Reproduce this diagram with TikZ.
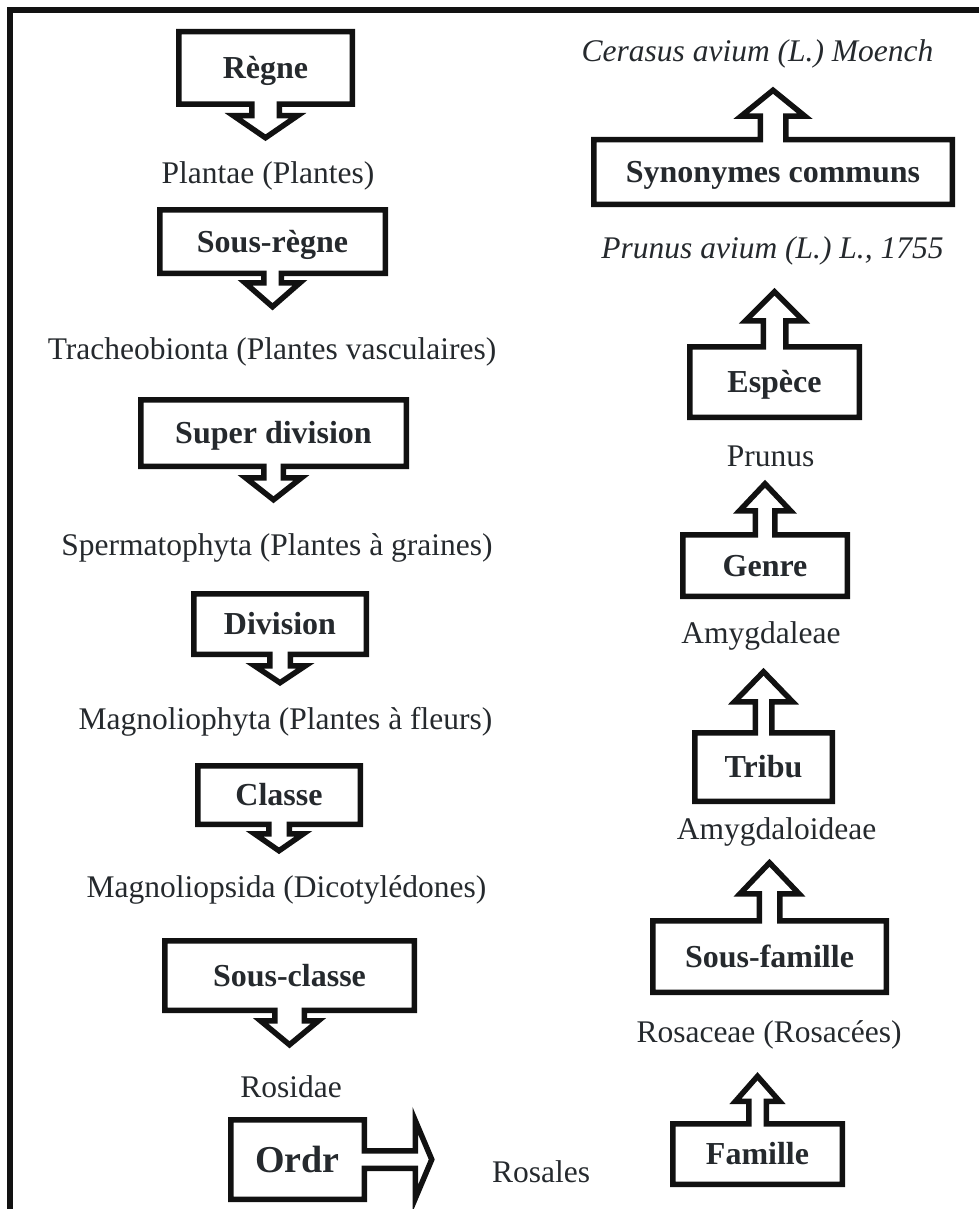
\documentclass[tikz,border=0pt]{standalone}
\usepackage{fontspec}
\setmainfont{Liberation Serif}
\usetikzlibrary{calc}
\definecolor{txt}{HTML}{25292D}
\definecolor{ln}{HTML}{111111}
\tikzset{
  outl/.style={draw=ln, line width=5.5pt, line join=miter},
  lab/.style={inner sep=0pt, outer sep=0pt, text height=21pt, text depth=0pt,
    font=\fontsize{32}{36}\selectfont\bfseries, text=txt},
  taxon/.style={anchor=base, inner sep=0pt, font=\fontsize{31.5}{36}\selectfont, text=txt},
  syn/.style={anchor=base, inner sep=0pt, font=\fontsize{31.5}{36}\selectfont\itshape, text=txt},
  framel/.style={draw=ln, line width=5.6pt},
}
% #1 node, #2 stem half width, #3 stem length, #4 head half width, #5 head length
\newcommand{\DownArr}[5]{%
  \draw[outl] (#1.north west) -- (#1.north east) -- (#1.south east)
    -- ($(#1.south)+(#2,0)$) -- ++(0,#3) -- ++({#4-#2},0) -- ++(-#4,#5)
    -- ++(-#4,-#5) -- ++({#4-#2},0) -- ++(0,-#3) -- (#1.south west) -- cycle;}
\newcommand{\UpArr}[5]{%
  \draw[outl] (#1.south west) -- (#1.south east) -- (#1.north east)
    -- ($(#1.north)+(#2,0)$) -- ++(0,-#3) -- ++({#4-#2},0) -- ++(-#4,-#5)
    -- ++(-#4,#5) -- ++({#4-#2},0) -- ++(0,#3) -- (#1.north west) -- cycle;}
\newcommand{\RightArr}[5]{%
  \draw[outl] (#1.south west) -- (#1.north west) -- (#1.north east)
    -- ($(#1.east)+(0,-#2)$) -- ++(#3,0) -- ++(0,{-(#4-#2)}) -- ++(#5,#4)
    -- ++(-#5,#4) -- ++(0,{-(#4-#2)}) -- ++(-#3,0) -- (#1.south east) -- cycle;}
\begin{document}
\begin{tikzpicture}[x=1pt,y=-1pt]
\useasboundingbox (0,0) rectangle (979,1209);
\draw[framel] (10,1209) -- (10,10) -- (979,10);

% ---------- left column ----------
\node[lab, minimum width=173.5pt, minimum height=72.5pt] (regne) at (265.5,68) {Règne};
\DownArr{regne}{13.75}{11.5}{32}{22}
\node[taxon] (plantae) at (268,183) {Plantae (Plantes)};

\node[lab, minimum width=225.5pt, minimum height=63.5pt] (sousregne) at (272.5,241.5) {Sous-règne};
\DownArr{sousregne}{8.75}{9.5}{27.5}{24}
\node[taxon] (tracheo) at (272,359) {Tracheobionta (Plantes vasculaires)};

\node[lab, minimum width=265.5pt, minimum height=66.5pt] (superdiv) at (273.5,433) {Super division};
\DownArr{superdiv}{9.75}{11.5}{28}{22}
\node[taxon] (sperma) at (277,555) {Spermatophyta (Plantes à graines)};

\node[lab, minimum width=172.5pt, minimum height=60.5pt] (division) at (280,624) {Division};
\DownArr{division}{10.25}{11.5}{25.5}{17}
\node[taxon] (magnoliophyta) at (285.5,729) {Magnoliophyta (Plantes à fleurs)};

\node[lab, minimum width=162.5pt, minimum height=58.5pt] (classe) at (279,795) {Classe};
\DownArr{classe}{10.25}{9.5}{24.5}{17}
\node[taxon] (magnoliopsida) at (286.5,897) {Magnoliopsida (Dicotylédones)};

\node[lab, minimum width=249.5pt, minimum height=69.5pt] (sousclasse) at (289.5,975.5) {Sous-classe};
\DownArr{sousclasse}{14.75}{10.5}{29}{24}
\node[taxon] (rosidae) at (291,1097) {Rosidae};

\node[lab, font=\fontsize{38}{42}\selectfont\bfseries, text height=25pt, minimum width=133.5pt, minimum height=79.5pt] (ordr) at (297.5,1159.5) {Ordr};
\RightArr{ordr}{8.75}{51}{39}{16.5}
\node[taxon] (rosales) at (541,1182) {Rosales};

% ---------- right column ----------
\node[syn] (cerasus) at (757.5,62) {Cerasus avium (L.) Moench};

\node[lab, minimum width=358.5pt, minimum height=64.5pt] (synonymes) at (773,172) {Synonymes communs};
\UpArr{synonymes}{12.75}{23.5}{32}{26}
\node[syn] (prunusavium) at (772.5,258) {Prunus avium (L.) L., 1755};

\node[lab, minimum width=169.5pt, minimum height=70.5pt] (espece) at (774.5,382) {Espèce};
\UpArr{espece}{11.25}{26}{29}{29}
\node[taxon] (prunus) at (770.5,466) {Prunus};

\node[lab, minimum width=164.5pt, minimum height=61.5pt] (genre) at (765,565.5) {Genre};
\UpArr{genre}{9.75}{24}{25.5}{27}
\node[taxon] (amygdaleae) at (761,643) {Amygdaleae};

\node[lab, minimum width=137.5pt, minimum height=68.5pt] (tribu) at (763.5,767) {Tribu};
\UpArr{tribu}{8.25}{31}{29}{30}
\node[taxon] (amygdaloideae) at (776.5,839) {Amygdaloideae};

\node[lab, minimum width=233.5pt, minimum height=71.5pt] (sousfamille) at (769.5,956.5) {Sous-famille};
\UpArr{sousfamille}{10.25}{27}{29.5}{31}
\node[taxon] (rosaceae) at (769,1042) {Rosaceae (Rosacées)};

\node[lab, minimum width=169.5pt, minimum height=60.5pt] (famille) at (757.5,1154) {Famille};
\UpArr{famille}{8.75}{22.5}{22}{25}
\end{tikzpicture}
\end{document}
